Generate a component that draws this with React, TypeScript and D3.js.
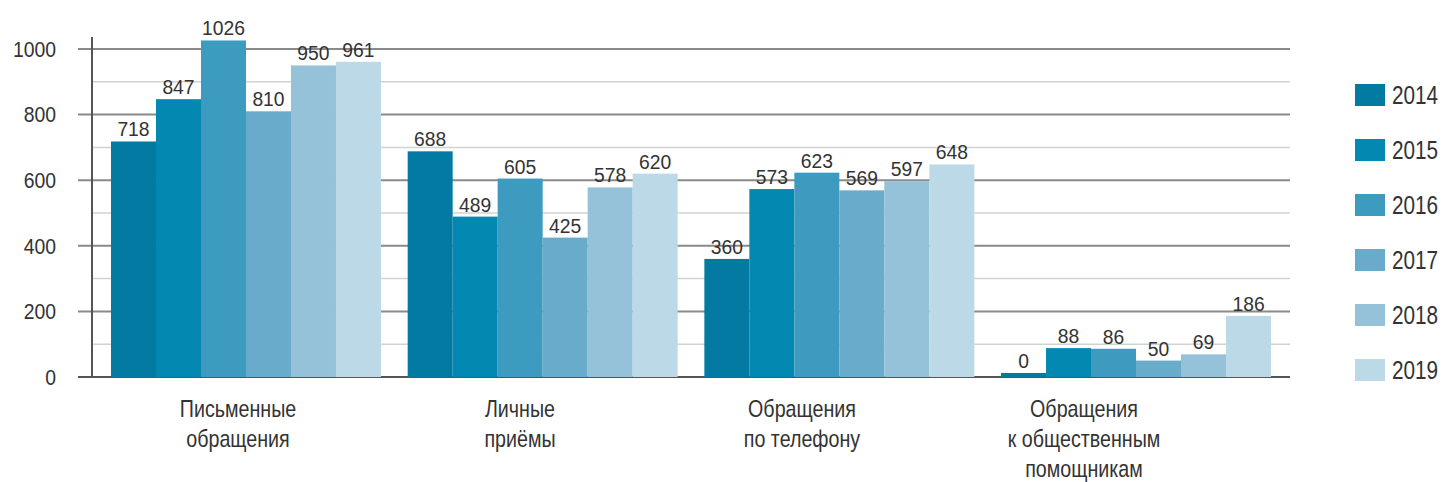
import React, { useEffect, useRef } from "react";
import * as d3 from "d3";

const categories = [
  ["Письменные", "обращения"],
  ["Личные", "приёмы"],
  ["Обращения", "по телефону"],
  ["Обращения", "к общественным", "помощникам"],
];
const years = ["2014", "2015", "2016", "2017", "2018", "2019"];
const values2014 = [718, 688, 360, 0];
const values2015 = [847, 489, 573, 88];
const values2016 = [1026, 605, 623, 86];
const values2017 = [810, 425, 569, 50];
const values2018 = [950, 578, 597, 69];
const values2019 = [961, 620, 648, 186];
const yTicks = [0, 200, 400, 600, 800, 1000];
const yMinorTicks = [100, 300, 500, 700, 900];
const colors = ["#037aa1", "#0389b1", "#3d9bbf", "#68abca", "#95c1d9", "#bcd9e8"];

const series = [values2014, values2015, values2016, values2017, values2018, values2019];

const App = () => {
  const svgRef = useRef<SVGSVGElement>(null);

  useEffect(() => {
    const svg = d3.select(svgRef.current);
    svg.selectAll("*").remove();

    const keys = categories.map((c) => c.join(" "));
    const axisX = 92;
    const gridEnd = 1290;

    const x0 = d3.scaleBand().domain(keys).range([axisX, gridEnd]).paddingInner(0.09).paddingOuter(0.064);
    const x1 = d3.scaleBand().domain(years).range([0, x0.bandwidth()]);
    const labelX = d3.scaleBand().domain(keys).range([97, 1225]);
    const y = d3.scaleLinear().domain([0, 1000]).range([377, 49]);

    const font = "'Liberation Sans', Arial, sans-serif";
    const textColor = "#333";

    // minor gridlines
    svg.append("g")
      .selectAll("line")
      .data(yMinorTicks)
      .enter()
      .append("line")
      .attr("x1", axisX)
      .attr("x2", gridEnd)
      .attr("y1", (d) => y(d))
      .attr("y2", (d) => y(d))
      .attr("stroke", "#d2d2d2")
      .attr("stroke-width", 1.5);

    // major gridlines with ticks
    svg.append("g")
      .selectAll("line")
      .data(yTicks)
      .enter()
      .append("line")
      .attr("x1", axisX - 14)
      .attr("x2", gridEnd)
      .attr("y1", (d) => y(d))
      .attr("y2", (d) => y(d))
      .attr("stroke", (d) => (d === 0 ? "#555" : "#8a8a8a"))
      .attr("stroke-width", 2);

    // y tick labels (condensed by scaling)
    svg.append("g")
      .selectAll("text")
      .data(yTicks)
      .enter()
      .append("text")
      .attr("transform", (d) => `translate(56,${y(d)}) scale(0.88,1)`)
      .attr("dy", "0.35em")
      .attr("text-anchor", "end")
      .attr("font-family", font)
      .attr("font-size", 22)
      .attr("fill", textColor)
      .text((d) => d);

    // y axis line
    svg.append("line")
      .attr("x1", axisX)
      .attr("x2", axisX)
      .attr("y1", y(1000) - 12)
      .attr("y2", y(0))
      .attr("stroke", "#555")
      .attr("stroke-width", 2);

    // bars
    const groups = svg
      .append("g")
      .selectAll("g")
      .data(keys)
      .enter()
      .append("g")
      .attr("transform", (k) => `translate(${x0(k)},0)`);

    groups.each(function (k, ci) {
      const g = d3.select(this);
      years.forEach((yr, si) => {
        const v = series[si][ci];
        const h = Math.max(y(0) - y(v), 4);
        g.append("rect")
          .attr("x", x1(yr)!)
          .attr("y", y(0) - h)
          .attr("width", x1.bandwidth())
          .attr("height", h)
          .attr("fill", colors[si]);
        g.append("text")
          .attr("transform", `translate(${x1(yr)! + x1.bandwidth() / 2},${y(0) - h - 5}) scale(0.92,1)`)
          .attr("text-anchor", "middle")
          .attr("font-family", font)
          .attr("font-size", 21)
          .attr("fill", textColor)
          .text(v);
      });
    });

    // category labels
    const cat = svg
      .append("g")
      .selectAll("text")
      .data(categories)
      .enter()
      .append("text")
      .attr("text-anchor", "middle")
      .attr("font-family", font)
      .attr("font-size", 24)
      .attr("fill", textColor)
      .attr("transform", (_, i) => `translate(${labelX(keys[i])! + labelX.bandwidth() / 2},417) scale(0.82,1)`);
    cat.each(function (lines) {
      const t = d3.select(this);
      lines.forEach((line, li) => {
        t.append("tspan").attr("x", 0).attr("dy", li === 0 ? 0 : 30).text(line);
      });
    });

    // legend
    const legend = svg
      .append("g")
      .selectAll("g")
      .data(years)
      .enter()
      .append("g")
      .attr("transform", (_, i) => `translate(1355, ${84 + i * 55})`);
    legend.append("rect")
      .attr("width", 30)
      .attr("height", 22)
      .attr("fill", (_, i) => colors[i]);
    legend.append("text")
      .attr("transform", "translate(37,20) scale(0.83,1)")
      .attr("font-family", font)
      .attr("font-size", 25)
      .attr("fill", textColor)
      .text((d) => d);
  }, []);

  return (
    <svg
      ref={svgRef}
      width={1442}
      height={482}
      style={{ position: "absolute", left: 0, top: 0, background: "#fff" }}
    ></svg>
  );
};

export default App;
